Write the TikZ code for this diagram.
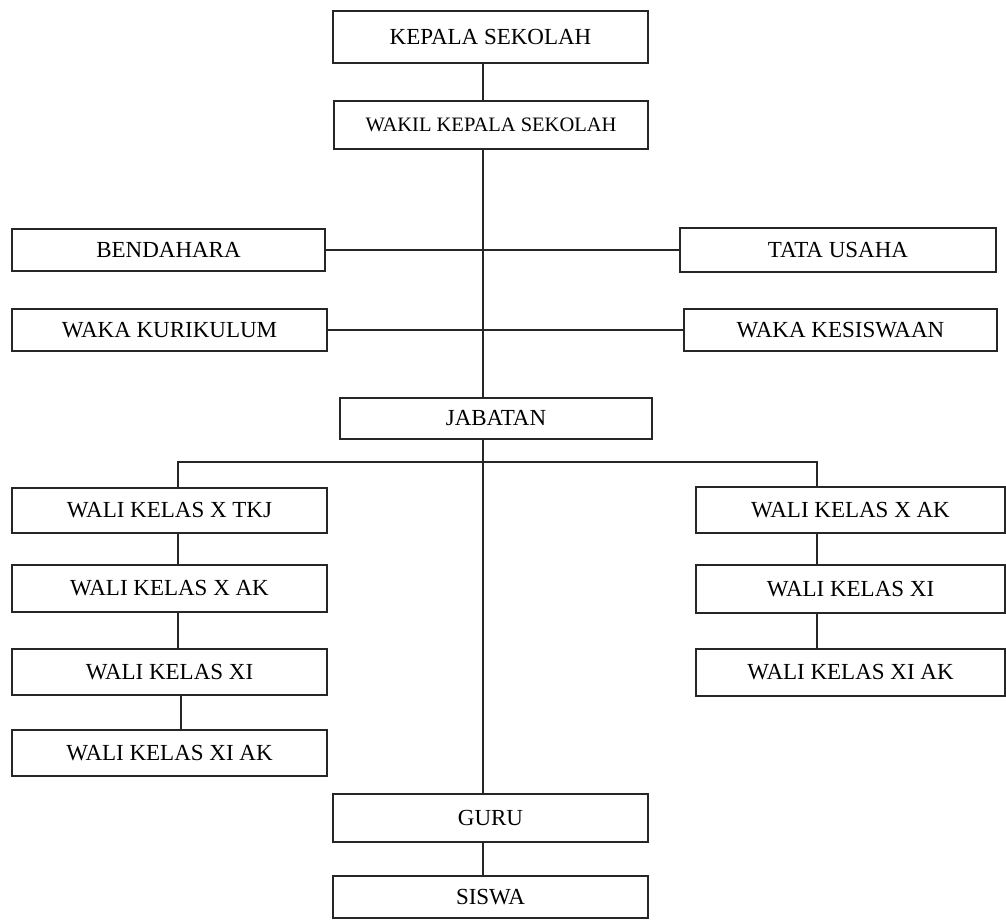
\documentclass[tikz,border=0pt]{standalone}
\usepackage{fontspec}
\setmainfont{Liberation Serif}
\begin{document}
\begin{tikzpicture}[x=1pt,y=-1pt,
  box/.style={draw=black!85, line width=1.6pt, rectangle, inner sep=0pt, fill=white,
    font=\fontsize{23}{23}\selectfont},
  link/.style={draw=black!85, line width=1.6pt}]
\useasboundingbox[fill=white] (0,0) rectangle (1006,920);
% nodes
\node[box, minimum width=315, minimum height=52] (kepala) at (490.5,37) {KEPALA SEKOLAH};
\node[box, minimum width=314, minimum height=48, font=\fontsize{20.5}{20.5}\selectfont] (wakil) at (491,125) {WAKIL KEPALA SEKOLAH};
\node[box, minimum width=313, minimum height=42] (bendahara) at (168.5,250) {BENDAHARA};
\node[box, minimum width=316, minimum height=44] (tata) at (838,250) {TATA USAHA};
\node[box, minimum width=315, minimum height=42] (kurikulum) at (169.5,330) {WAKA KURIKULUM};
\node[box, minimum width=313, minimum height=42] (kesiswaan) at (840.5,330) {WAKA KESISWAAN};
\node[box, minimum width=312, minimum height=41] (jabatan) at (496,418.5) {JABATAN};
\node[box, minimum width=315, minimum height=45] (ltkj) at (169.5,510.5) {WALI KELAS X TKJ};
\node[box, minimum width=315, minimum height=47] (lxak) at (169.5,588.5) {WALI KELAS X AK};
\node[box, minimum width=315, minimum height=46] (lxi) at (169.5,672) {WALI KELAS XI};
\node[box, minimum width=315, minimum height=46] (lxiak) at (169.5,753) {WALI KELAS XI AK};
\node[box, minimum width=309, minimum height=46] (rxak) at (850.5,510) {WALI KELAS X AK};
\node[box, minimum width=309, minimum height=48] (rxi) at (850.5,589) {WALI KELAS XI};
\node[box, minimum width=309, minimum height=47] (rxiak) at (850.5,672.5) {WALI KELAS XI AK};
\node[box, minimum width=315, minimum height=48] (guru) at (490.5,818) {GURU};
\node[box, minimum width=315, minimum height=42] (siswa) at (490.5,897) {SISWA};
% helper coordinates
\coordinate (sx) at (483,0);
\coordinate (lx) at (178,0);
\coordinate (lx2) at (181,0);
\coordinate (rx) at (817,0);
\coordinate (bar) at (483,462);
% connectors
\draw[link] (kepala.south -| sx) -- (wakil.north -| sx);
\draw[link] (wakil.south -| sx) -- (jabatan.north -| sx);
\draw[link] (bendahara.east) -- (tata.west);
\draw[link] (kurikulum.east) -- (kesiswaan.west);
\draw[link] (jabatan.south -| sx) -- (guru.north -| sx);
\draw[link] (ltkj.north -| lx) -- (lx |- bar) -- (rx |- bar) -- (rxak.north -| rx);
\draw[link] (ltkj.south -| lx) -- (lxak.north -| lx);
\draw[link] (lxak.south -| lx) -- (lxi.north -| lx);
\draw[link] (lxi.south -| lx2) -- (lxiak.north -| lx2);
\draw[link] (rxak.south -| rx) -- (rxi.north -| rx);
\draw[link] (rxi.south -| rx) -- (rxiak.north -| rx);
\draw[link] (guru.south -| sx) -- (siswa.north -| sx);
\end{tikzpicture}
\end{document}
